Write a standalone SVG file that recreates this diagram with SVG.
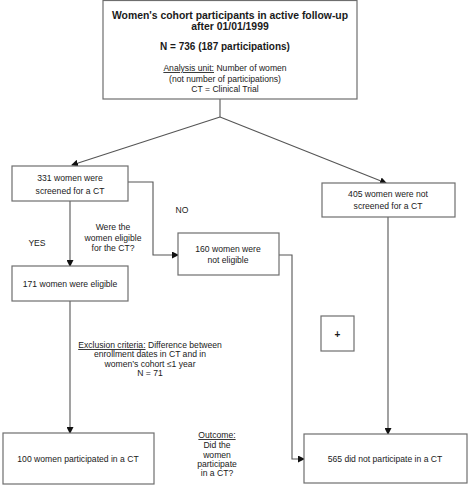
<svg xmlns="http://www.w3.org/2000/svg" width="474" height="488" viewBox="0 0 474 488">
<style>
.box{fill:#fff;stroke:#6e6e6e;stroke-width:1.2}
.ln{fill:none;stroke:#555;stroke-width:1.1}
text{font-family:"Liberation Sans",Arial,sans-serif;fill:#1a1a1a;text-anchor:middle}
.t{font-size:8.6px}
.b{font-size:10px;font-weight:bold}
.h{font-size:10.4px;font-weight:bold}
.u{text-decoration:underline}
</style>
<defs>
<marker id="ah" markerWidth="7" markerHeight="7" refX="6" refY="3.5" orient="auto" markerUnits="userSpaceOnUse">
<path d="M0,0 L7,3.5 L0,7 z" fill="#111"/>
</marker>
</defs>
<rect width="474" height="488" fill="#fff"/>
<g id="connectors">
<polyline class="ln" points="220,99 220,117"/>
<line class="ln" x1="220" y1="117" x2="72" y2="165" marker-end="url(#ah)"/>
<line class="ln" x1="220" y1="117" x2="386" y2="183" marker-end="url(#ah)"/>
<polyline class="ln" points="128,182 153,182 153,255 178,255" marker-end="url(#ah)"/>
<line class="ln" x1="70" y1="201" x2="70" y2="266" marker-end="url(#ah)"/>
<line class="ln" x1="70" y1="301" x2="70" y2="433" marker-end="url(#ah)"/>
<polyline class="ln" points="279,255 292,255 292,459 304,459" marker-end="url(#ah)"/>
<line class="ln" x1="388" y1="217" x2="388" y2="434" marker-end="url(#ah)"/>
</g>
<g id="top">
<rect class="box" x="103" y="0.5" width="254" height="98.5"/>
<text class="h" x="230" y="19">Women's cohort participants in active follow-up</text>
<text class="h" x="230" y="30">after 01/01/1999</text>
<text class="b" x="225" y="50">N = 736 (187 participations)</text>
<text class="t" x="225" y="71"><tspan class="u">Analysis unit:</tspan> Number of women</text>
<text class="t" x="225" y="82">(not number of participations)</text>
<text class="t" x="225" y="92">CT = Clinical Trial</text>
</g>
<g id="screened">
<rect class="box" x="12" y="166" width="116" height="35"/>
<text class="t" x="70" y="181">331 women were</text>
<text class="t" x="70" y="194">screened for a CT</text>
</g>
<g id="notscreened">
<rect class="box" x="322" y="183" width="133" height="34"/>
<text class="t" x="388" y="197">405 women were not</text>
<text class="t" x="388" y="209">screened for a CT</text>
</g>
<g id="noteligible">
<rect class="box" x="178" y="233" width="101" height="42"/>
<text class="t" x="228" y="252">160 women were</text>
<text class="t" x="228" y="263">not eligible</text>
</g>
<g id="eligible">
<rect class="box" x="12" y="266" width="116" height="35"/>
<text class="t" x="70" y="287">171 women were eligible</text>
</g>
<g id="participated">
<rect class="box" x="3" y="433" width="151" height="51"/>
<text class="t" x="78" y="462">100 women participated in a CT</text>
</g>
<g id="notparticipated">
<rect class="box" x="304" y="434" width="163" height="49"/>
<text class="t" x="385" y="462">565 did not participate in a CT</text>
</g>
<g id="plus">
<rect class="box" x="321" y="316" width="33" height="35"/>
<text class="b" x="337.5" y="338">+</text>
</g>
<g id="labels">
<text class="t" x="182" y="213">NO</text>
<text class="t" x="37" y="246">YES</text>
<text class="t" x="113" y="230">Were the</text>
<text class="t" x="113" y="241">women eligible</text>
<text class="t" x="113" y="251">for the CT?</text>
<text class="t" x="150" y="348"><tspan class="u">Exclusion criteria:</tspan> Difference between</text>
<text class="t" x="150" y="357">enrollment dates in CT and in</text>
<text class="t" x="150" y="367">women’s cohort ≤1 year</text>
<text class="t" x="150" y="376">N = 71</text>
<text class="t u" x="217" y="438">Outcome:</text>
<text class="t" x="217" y="448">Did the</text>
<text class="t" x="217" y="458">women</text>
<text class="t" x="217" y="467">participate</text>
<text class="t" x="217" y="476">in a CT?</text>
</g>
</svg>
